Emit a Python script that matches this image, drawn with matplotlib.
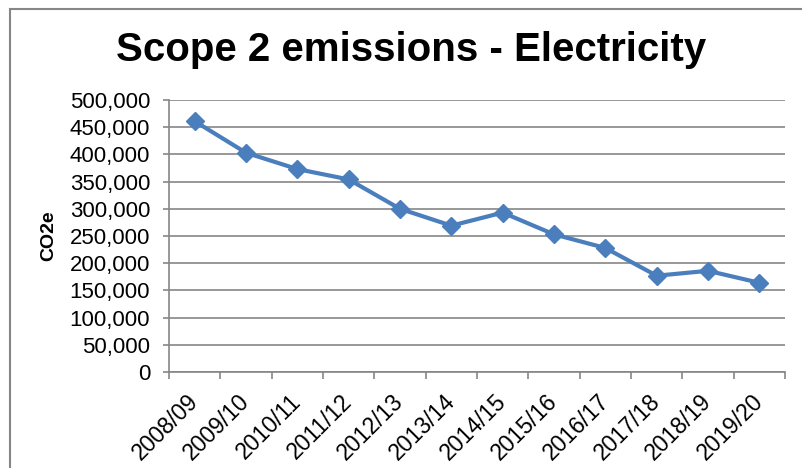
import matplotlib
matplotlib.use("Agg")
import matplotlib.pyplot as plt
from matplotlib.patches import Rectangle
from matplotlib.ticker import FuncFormatter, MultipleLocator

years = ["2008/09", "2009/10", "2010/11", "2011/12", "2012/13", "2013/14",
         "2014/15", "2015/16", "2016/17", "2017/18", "2018/19", "2019/20"]
co2e = [461000, 403000, 373000, 354000, 300000, 269000,
        293000, 253000, 228000, 177000, 186000, 164000]

plt.rcParams['font.family'] = ['Liberation Sans', 'DejaVu Sans']

W, H = 803, 468
fig = plt.figure(figsize=(W / 100, H / 100), dpi=100)
ax = fig.add_axes([169 / W, 1 - 372 / H, (785 - 169) / W, (372 - 100) / H])

grey = "#868686"
x = list(range(len(years)))
ax.plot(x, co2e, color="#4A7EBD", lw=3.0, marker="D", markersize=9,
        markeredgecolor="#4A7EBD", zorder=3)

ax.set_xlim(-0.5, len(years) - 0.5)
ax.set_ylim(0, 500000)
ax.yaxis.set_major_locator(MultipleLocator(50000))
ax.yaxis.set_major_formatter(FuncFormatter(lambda v, p: f"{int(v):,}"))
ax.grid(axis="y", color=grey, lw=1.2)
ax.set_axisbelow(True)

for s in ["top", "right"]:
    ax.spines[s].set_visible(False)
for s in ["left", "bottom"]:
    ax.spines[s].set_color(grey)
    ax.spines[s].set_linewidth(1.2)

ax.set_xticks([i - 0.5 for i in range(len(years) + 1)], minor=False)
ax.set_xticklabels([])
ax.set_xticks(x, minor=True)
ax.set_xticklabels(years, minor=True, rotation=45, ha="right", va="center",
                   rotation_mode="anchor", fontsize=16.5)
ax.tick_params(axis="x", which="minor", length=0, pad=19)
ax.tick_params(axis="x", which="major", length=5, color=grey, width=1.2)
ax.tick_params(axis="y", length=4.5, color=grey, width=1.2, labelsize=16, pad=9)

fig.text(49 / W, 1 - 236 / H, "CO2e", fontsize=14, fontweight="bold",
         rotation=90, ha="center", va="center")
fig.text(411 / W, 1 - 50 / H, "Scope 2 emissions - Electricity", fontsize=29,
         fontweight="bold", ha="center", va="center")

fig.patches.append(Rectangle((10 / W, -0.1), 1.2, 1 - 9 / H + 0.1,
                             transform=fig.transFigure, fill=False,
                             edgecolor=grey, lw=1.5))

fig.savefig("out.png", dpi=100)
